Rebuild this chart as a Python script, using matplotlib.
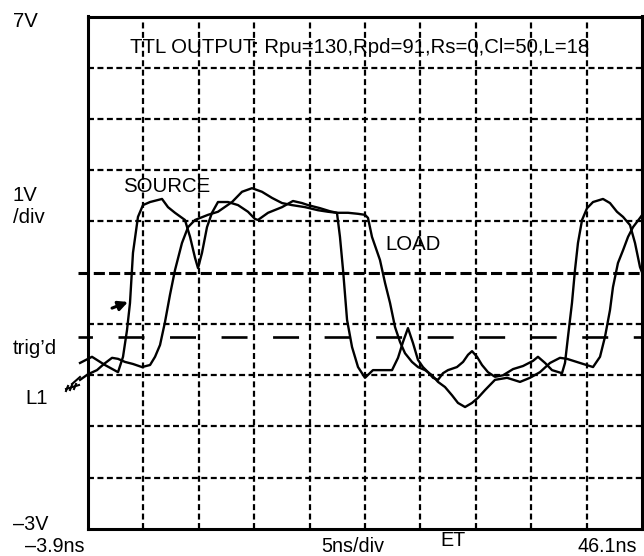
import matplotlib
matplotlib.use('Agg')
import matplotlib.pyplot as plt
import numpy as np
from matplotlib.lines import Line2D

plt.rcParams['font.family'] = ['Liberation Sans', 'DejaVu Sans']
plt.rcParams['lines.scale_dashes'] = False

# screen: 5 ns/div, 1 V/div
t_min, t_max = -3.9, 46.1
v_min, v_max = -3, 7
t_grid = np.arange(1.1, 42, 5)
v_grid = [-2, -1, 0, 1, 3, 4, 5, 6]
v_center = 2
v_trig = 0.75
t_line_start = -4.8

title = 'TTL OUTPUT: Rpu=130,Rpd=91,Rs=0,Cl=50,L=18'

# traces (ns, V)
source_t = [-4.62, -3.54, -2.37, -1.19, -0.74, -0.38, -0.11, 0.16, 0.61, 1.06,
            1.70, 2.78, 3.32, 3.95, 4.85, 5.31, 5.76, 6.03, 6.39, 6.84,
            7.29, 7.83, 8.74, 9.64, 10.54, 11.17, 11.44, 12.35, 13.61, 14.60,
            15.41, 15.96, 17.04, 17.94, 18.57, 18.84, 19.12, 19.48, 19.93, 20.47,
            21.10, 21.82, 22.63, 23.54, 24.08, 24.53, 24.98, 25.43, 25.88, 26.33,
            26.79, 27.24, 27.69, 28.14, 28.59, 29.40, 29.95, 30.40, 30.76, 31.21,
            31.66, 32.20, 32.83, 33.56, 34.46, 35.36, 36.26, 36.71, 37.35, 37.98,
            38.88, 39.15, 39.42, 39.78, 40.05, 40.32, 40.69, 41.14, 41.68, 42.58,
            43.21, 43.84, 44.39, 45.02, 45.47, 45.92, 46.19]
source_v = [0.24, 0.36, 0.20, 0.06, 0.36, 0.88, 1.41, 2.39, 3.09, 3.32,
            3.38, 3.44, 3.28, 3.17, 3.03, 2.70, 2.29, 2.09, 2.39, 2.89,
            3.17, 3.38, 3.38, 3.32, 3.19, 3.05, 3.03, 3.17, 3.28, 3.40,
            3.36, 3.32, 3.26, 3.20, 3.17, 2.70, 2.05, 1.08, 0.55, 0.16,
            -0.05, 0.10, 0.10, 0.10, 0.34, 0.65, 0.92, 0.63, 0.30, 0.16,
            0.06, -0.05, -0.09, 0.04, 0.10, 0.16, 0.26, 0.40, 0.47, 0.36,
            0.20, 0.06, -0.03, 0.00, 0.12, 0.18, 0.28, 0.36, 0.24, 0.10,
            0.04, 0.24, 0.75, 1.41, 2.05, 2.58, 3.03, 3.26, 3.38, 3.44,
            3.36, 3.19, 3.09, 2.93, 2.58, 2.11, 1.96]

load_t = [-4.62, -3.90, -3.09, -2.46, -1.73, -1.19, -0.56, 0.16, 0.97, 1.70,
          2.15, 2.60, 3.05, 3.50, 3.95, 4.58, 5.13, 5.76, 6.93, 7.83,
          9.10, 10.00, 10.90, 11.80, 12.71, 13.61, 14.51, 15.69, 16.86, 17.76,
          18.57, 19.57, 20.47, 21.10, 21.37, 21.73, 22.45, 22.91, 23.36, 23.81,
          24.26, 24.71, 25.34, 25.88, 26.52, 27.15, 27.69, 28.32, 28.95, 29.49,
          30.13, 30.76, 31.30, 31.93, 32.83, 33.92, 35.09, 35.99, 36.89, 37.80,
          38.70, 39.33, 40.50, 41.68, 42.31, 42.76, 43.21, 43.48, 43.93, 44.39,
          44.84, 45.29, 45.92, 46.19]
load_v = [-0.09, 0.02, 0.10, 0.22, 0.34, 0.32, 0.26, 0.22, 0.16, 0.20,
          0.36, 0.59, 1.04, 1.57, 2.05, 2.58, 2.89, 3.03, 3.13, 3.19,
          3.38, 3.58, 3.65, 3.58, 3.46, 3.36, 3.32, 3.28, 3.22, 3.19,
          3.17, 3.17, 3.15, 3.13, 3.07, 2.70, 2.25, 1.80, 1.41, 0.94,
          0.65, 0.43, 0.26, 0.16, 0.10, 0.00, -0.13, -0.23, -0.39, -0.54,
          -0.62, -0.54, -0.44, -0.29, -0.09, -0.05, -0.13, -0.05, 0.06, 0.24,
          0.34, 0.32, 0.24, 0.16, 0.36, 0.75, 1.27, 1.72, 2.19, 2.44,
          2.70, 2.89, 3.07, 3.15]

W, H = 644, 556


def px(x, y):
    # screen pixel (from top-left) -> figure fraction
    return x / W, 1 - y / H


fig = plt.figure(figsize=(W / 100, H / 100), dpi=100)
ax = fig.add_axes([88 / W, 1 - 529 / H, 554 / W, 512.5 / H])
ax.set_xlim(t_min, t_max)
ax.set_ylim(v_min, v_max)
ax.set_xticks([])
ax.set_yticks([])
for s in ax.spines.values():
    s.set_linewidth(2.2)
    s.set_color('black')

# graticule
for t in t_grid:
    ax.axvline(t, color='black', lw=1.6, linestyle=(0, (4.3, 2.5)), zorder=1)
for v in v_grid:
    ax.axhline(v, color='black', lw=1.6, linestyle=(0, (4.3, 2.5)), zorder=1)

ax.plot([t_line_start, t_max], [v_center, v_center], color='black', lw=2.2,
        linestyle=(0, (8, 3)), clip_on=False, zorder=1)
ax.plot([t_line_start, t_max], [v_trig, v_trig], color='black', lw=1.9,
        linestyle=(8.3, (18.7, 18.4)), clip_on=False, zorder=1)

# traces
ax.plot(source_t, source_v, color='black', lw=1.7, clip_on=False, zorder=3)
ax.plot(load_t, load_v, color='black', lw=1.7, clip_on=False, zorder=3)

# trigger arrow
ax.annotate('', xy=(-0.29, 1.43), xytext=(-1.73, 1.31),
            arrowprops=dict(arrowstyle='-|>', color='black', lw=2.2,
                            mutation_scale=14, shrinkA=0, shrinkB=0),
            annotation_clip=False)

# ground marker next to L1
for xs, ys in [([80, 72], [377, 384]), ([66, 79], [389, 385]),
               ([68, 66], [386, 391]), ([72, 70], [385, 390]), ([76, 74], [384, 389])]:
    p0 = px(xs[0], ys[0])
    p1 = px(xs[1], ys[1])
    fig.add_artist(Line2D([p0[0], p1[0]], [p0[1], p1[1]], color='black', lw=1.5,
                          transform=fig.transFigure))


def label(x, y, s, size=14.7):
    fx, fy = px(x, y)
    fig.text(fx, fy, s, va='baseline', ha='left', fontsize=size)


label(130, 53, title)
label(123, 192, 'SOURCE')
label(385, 250, 'LOAD')
label(13, 27, '7V')
label(13, 201, '1V')
label(13, 223, '/div')
label(13, 354, 'trig\u2019d')
label(25, 404, 'L1')
label(13, 529.5, '\u20133V', 14.2)
label(25, 551.5, '\u20133.9ns', 14.2)
label(321, 551.5, '5ns/div', 14.2)
label(440, 546, 'ET', 14.2)
label(577, 551.5, '46.1ns', 14.2)

fig.savefig('out.png', dpi=100)
